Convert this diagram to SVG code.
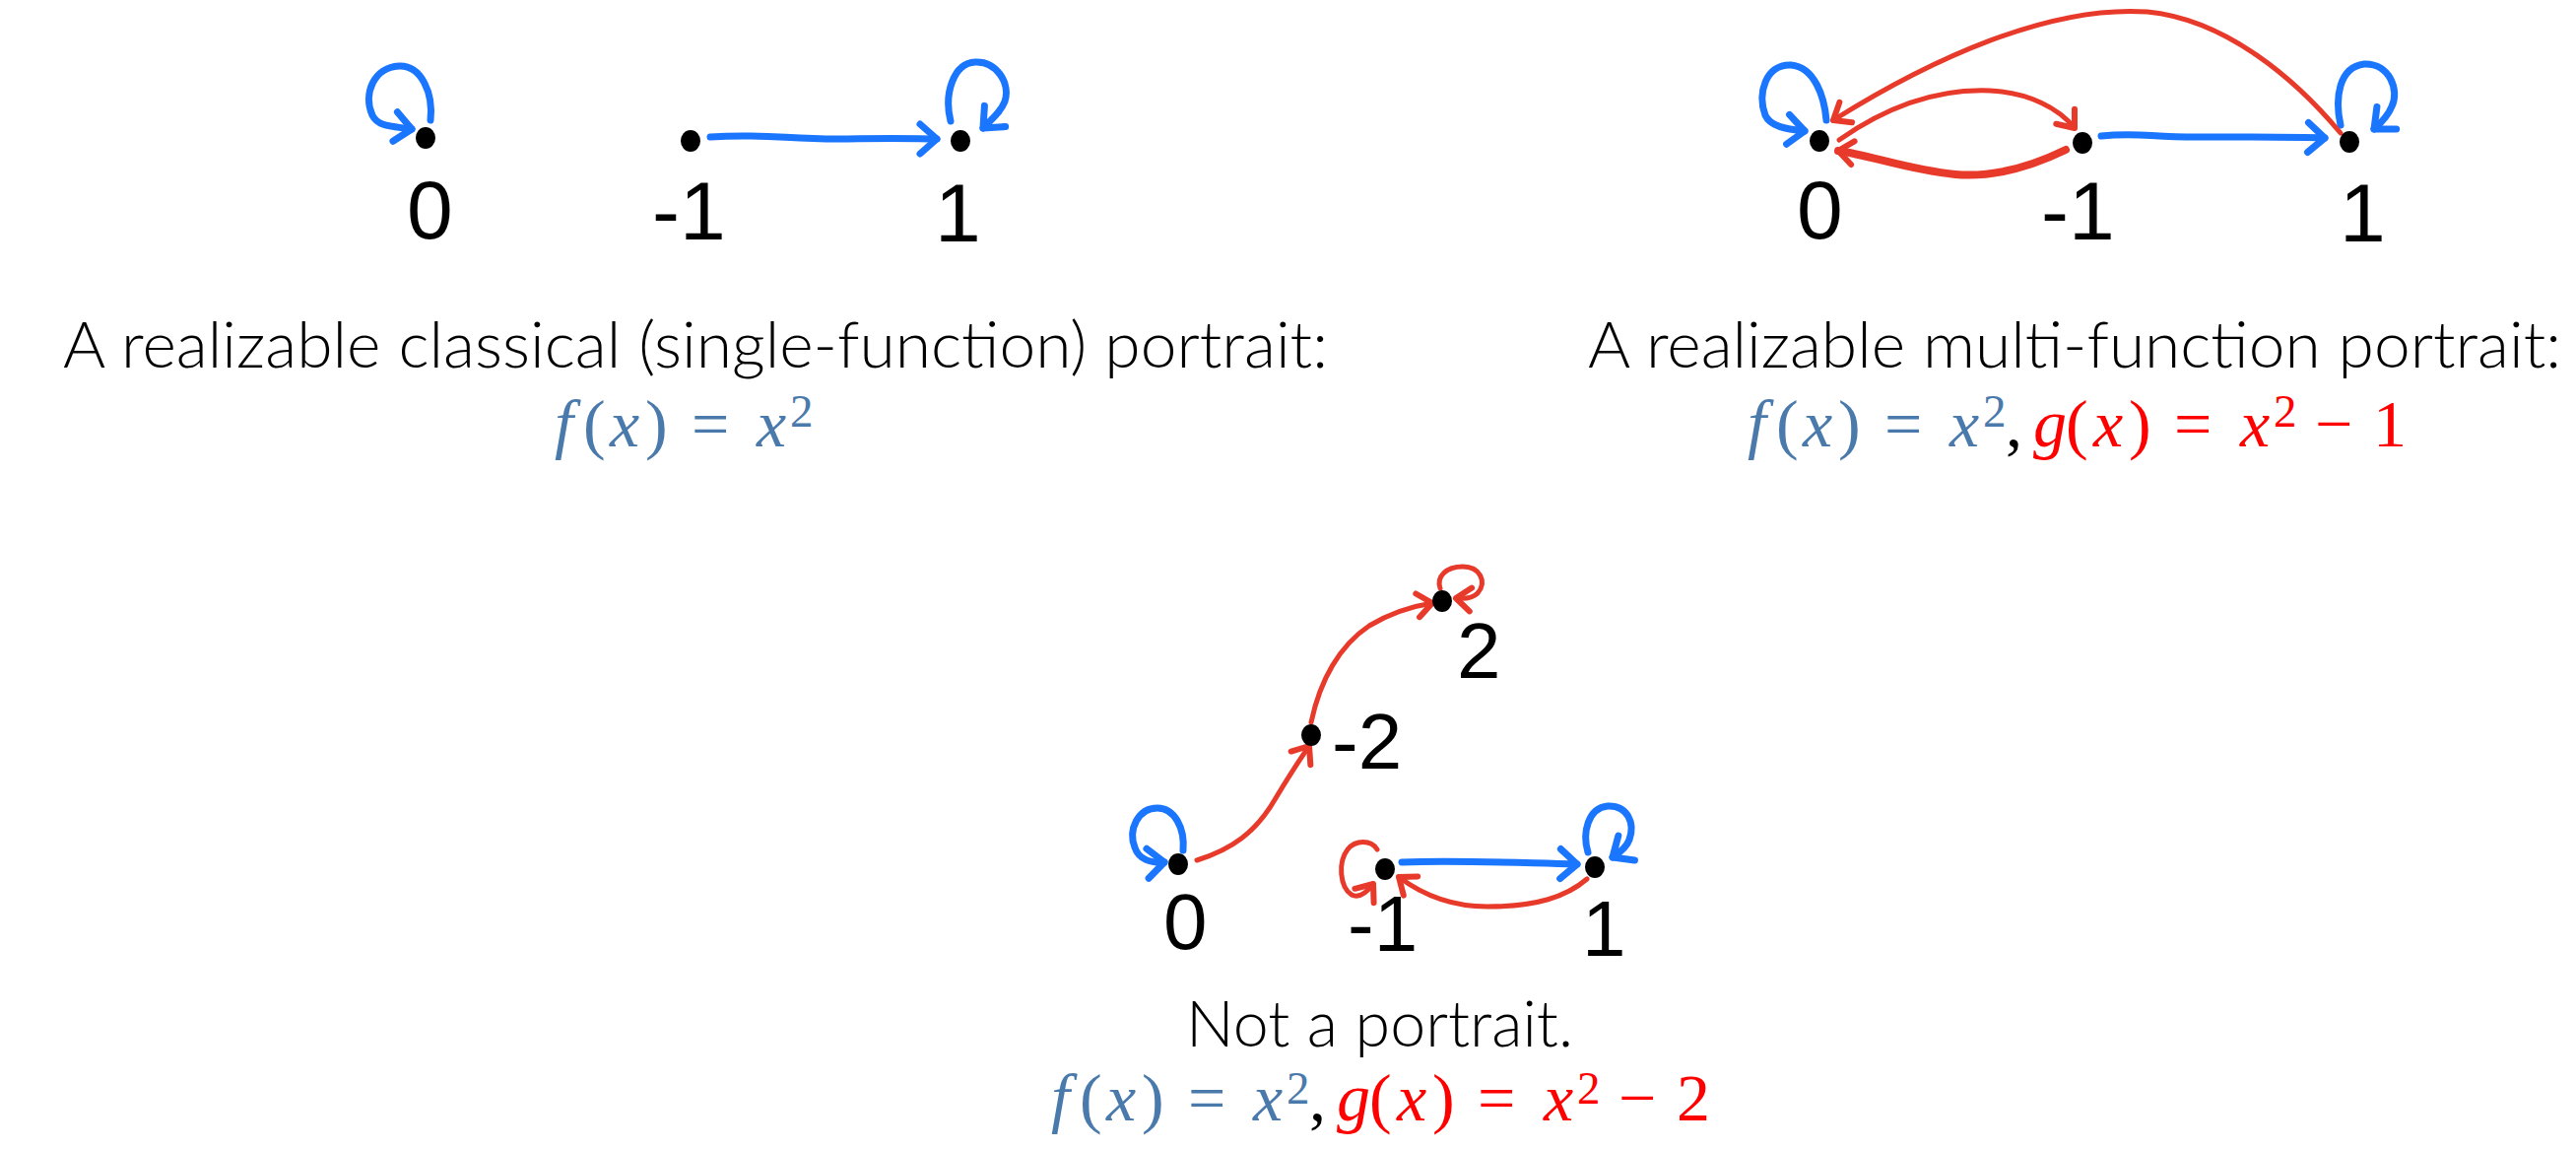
<svg xmlns="http://www.w3.org/2000/svg" width="2615" height="1166" viewBox="0 0 2615 1166">
<style>
.dot{fill:#000}
.lbl{font-family:"Liberation Sans","DejaVu Sans",sans-serif;font-size:84px;fill:#000}
.lbls{font-family:"Liberation Sans","DejaVu Sans",sans-serif;font-size:80px;fill:#000}
.cap{font-family:"Lato","Open Sans","Liberation Sans",sans-serif;font-weight:300;font-size:66px;fill:#000}
.m{font-family:"Liberation Serif","DejaVu Serif",serif;font-size:68px}
.i{font-style:italic}
.fb{fill:#4a7aab}
.fr{fill:#ff0000}
.sup{font-size:47px}
.b{fill:none;stroke:#1a75ff;stroke-width:7;stroke-linecap:round;stroke-linejoin:round}
.r{fill:none;stroke:#e83a2a;stroke-width:5;stroke-linecap:round;stroke-linejoin:round}
.ab{marker-end:url(#mb)}
.ar{marker-end:url(#mr)}
</style>
<defs>
<marker id="mb" markerUnits="userSpaceOnUse" viewBox="-24 -20 30 40" markerWidth="30" markerHeight="40" refX="0" refY="0" orient="auto" overflow="visible">
<path d="M-17,-15 L0,0 L-17,15" fill="none" stroke="#1a75ff" stroke-width="7" stroke-linecap="round" stroke-linejoin="round"/>
</marker>
<marker id="mr" markerUnits="userSpaceOnUse" viewBox="-20 -16 26 32" markerWidth="26" markerHeight="32" refX="0" refY="0" orient="auto" overflow="visible">
<path d="M-15,-12 L0,0 L-15,12" fill="none" stroke="#e83a2a" stroke-width="6" stroke-linecap="round" stroke-linejoin="round"/>
</marker>
</defs>
<rect width="2615" height="1166" fill="#fff"/>

<g id="connectors">
<!-- top-left panel -->
<path class="b ab" d="M437,122 C440,95 428,66 405,67 C380,68 368,95 378,117 C384,129 398,128 418,131"/>
<path class="b ab" d="M721,139 C780,135 800,142 860,141 S930,141 951,141"/>
<path class="b ab" d="M965,123 C958,95 968,64 990,63 C1012,62 1026,85 1020,103 C1016,113 1008,120 998,130"/>
<!-- top-right panel -->
<path class="b ab" d="M1854,122 C1852,98 1842,68 1818,66 C1792,65 1784,95 1792,117 C1797,128 1812,131 1832,133"/>
<path class="b ab" d="M2376,127 C2370,100 2374,68 2400,65 C2426,64 2436,92 2428,108 C2424,118 2418,124 2410,131"/>
<path class="b ab" d="M2133,138 C2170,134 2180,139 2230,139 S2330,139 2360,140"/>
<path class="r ar" d="M1867,142 C1920,105 1970,90 2020,92 C2060,94 2090,110 2106,130"/>
<path class="r ar" style="stroke-width:8" d="M2097,152 C2060,170 2020,180 1985,177 C1940,173 1900,158 1866,153"/>
<path class="r ar" d="M2376,135 C2330,80 2260,20 2180,12 C2080,5 1960,60 1861,122"/>
<!-- bottom panel -->
<path class="b ab" d="M1201,863 C1203,840 1192,820 1175,820 C1155,820 1145,842 1152,860 C1156,872 1168,876 1182,875"/>
<path class="r ar" d="M1215,873 C1250,862 1275,845 1295,810 C1310,785 1320,770 1329,757"/>
<path class="r ar" d="M1331,733 C1340,690 1360,655 1390,635 C1415,620 1435,615 1454,612"/>
<path class="r ar" d="M1462,597 C1458,585 1468,575 1485,575 C1502,575 1510,590 1500,602 C1495,607 1488,608 1478,607"/>
<path class="b ab" d="M1423,875 C1480,873 1520,875 1601,877"/>
<path class="b ab" d="M1612,865 C1606,845 1612,820 1632,818 C1652,817 1660,835 1654,852 C1652,858 1646,864 1637,870"/>
<path class="r ar" d="M1611,892 C1590,910 1560,920 1510,920 C1470,920 1440,905 1420,890"/>
<path class="r ar" d="M1398,862 C1392,852 1376,852 1368,862 C1358,875 1360,900 1372,908 C1380,912 1388,905 1394,897"/>
</g>

<!-- top-left panel nodes -->
<g id="tl-node-0"><ellipse class="dot" cx="432" cy="140" rx="10" ry="11"/><text class="lbl" x="413" y="242">0</text></g>
<g id="tl-node-m1"><ellipse class="dot" cx="701" cy="143" rx="10" ry="11"/><text class="lbl" x="662" y="243">-1</text></g>
<g id="tl-node-1"><ellipse class="dot" cx="975" cy="143" rx="10" ry="11"/><text class="lbl" x="949" y="245">1</text></g>

<!-- top-right panel nodes -->
<g id="tr-node-0"><ellipse class="dot" cx="1847" cy="143" rx="10" ry="11"/><text class="lbl" x="1824" y="242">0</text></g>
<g id="tr-node-m1"><ellipse class="dot" cx="2114" cy="145" rx="10" ry="11"/><text class="lbl" x="2072" y="243">-1</text></g>
<g id="tr-node-1"><ellipse class="dot" cx="2385" cy="144" rx="10" ry="11"/><text class="lbl" x="2375" y="245">1</text></g>

<!-- bottom panel nodes -->
<g id="b-node-2"><ellipse class="dot" cx="1464" cy="610" rx="10" ry="11"/><text class="lbls" x="1479" y="688">2</text></g>
<g id="b-node-m2"><ellipse class="dot" cx="1331" cy="746" rx="10" ry="11"/><text class="lbls" x="1352" y="780">-2</text></g>
<g id="b-node-0"><ellipse class="dot" cx="1196" cy="877" rx="10" ry="11"/><text class="lbls" x="1181" y="963">0</text></g>
<g id="b-node-m1"><ellipse class="dot" cx="1406" cy="882" rx="10" ry="11"/><text class="lbls" x="1368" y="965">-1</text></g>
<g id="b-node-1"><ellipse class="dot" cx="1619" cy="880" rx="10" ry="11"/><text class="lbls" x="1606" y="970">1</text></g>

<!-- captions -->
<g id="caption-left">
<text class="cap" x="64" y="373" textLength="1284" lengthAdjust="spacingAndGlyphs">A realizable classical (single-function) portrait:</text>
<text class="m fb" y="453"><tspan class="i" x="563">f</tspan><tspan x="592">(</tspan><tspan class="i" x="619">x</tspan><tspan x="655">)</tspan><tspan x="702">=</tspan><tspan class="i" x="768">x</tspan><tspan class="sup" x="802" y="433">2</tspan></text>
</g>
<g id="caption-right">
<text class="cap" x="1612" y="373" textLength="988" lengthAdjust="spacingAndGlyphs">A realizable multi-function portrait:</text>
<text class="m" y="453"><tspan class="i fb" x="1774">f</tspan><tspan class="fb" x="1803">(</tspan><tspan class="i fb" x="1830">x</tspan><tspan class="fb" x="1866">)</tspan><tspan class="fb" x="1913">=</tspan><tspan class="i fb" x="1979">x</tspan><tspan class="sup fb" x="2013" y="433">2</tspan><tspan x="2036" y="453">,</tspan><tspan class="i fr" x="2064">g</tspan><tspan class="fr" x="2097">(</tspan><tspan class="i fr" x="2125">x</tspan><tspan class="fr" x="2161">)</tspan><tspan class="fr" x="2207">=</tspan><tspan class="i fr" x="2274">x</tspan><tspan class="sup fr" x="2308" y="433">2</tspan><tspan class="fr" x="2350" y="453">−</tspan><tspan class="fr" x="2409">1</tspan></text>
</g>
<g id="caption-bottom">
<text class="cap" x="1204" y="1062" textLength="393" lengthAdjust="spacingAndGlyphs">Not a portrait.</text>
<text class="m" y="1137"><tspan class="i fb" x="1067">f</tspan><tspan class="fb" x="1096">(</tspan><tspan class="i fb" x="1123">x</tspan><tspan class="fb" x="1159">)</tspan><tspan class="fb" x="1206">=</tspan><tspan class="i fb" x="1272">x</tspan><tspan class="sup fb" x="1306" y="1120">2</tspan><tspan x="1329" y="1137">,</tspan><tspan class="i fr" x="1357">g</tspan><tspan class="fr" x="1390">(</tspan><tspan class="i fr" x="1418">x</tspan><tspan class="fr" x="1454">)</tspan><tspan class="fr" x="1500">=</tspan><tspan class="i fr" x="1567">x</tspan><tspan class="sup fr" x="1601" y="1120">2</tspan><tspan class="fr" x="1643" y="1137">−</tspan><tspan class="fr" x="1702">2</tspan></text>
</g>
</svg>
